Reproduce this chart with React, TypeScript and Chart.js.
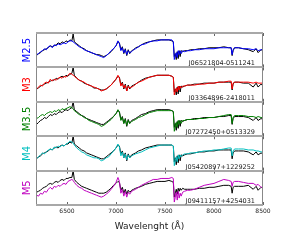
import React, { useEffect, useRef } from 'react';
import { Chart, registerables } from 'chart.js';

Chart.register(...registerables);

// Wavelength grid (Å) shared by all spectra
const wavelengths = [
  6190, 6210, 6230, 6250, 6270, 6290, 6310, 6330, 6350, 6370,
  6390, 6410, 6430, 6450, 6470, 6490, 6510, 6530, 6550, 6563,
  6575, 6600, 6625, 6650, 6675, 6700, 6725, 6750, 6775, 6800,
  6825, 6850, 6875, 6900, 6925, 6950, 6975, 7000, 7020, 7035,
  7050, 7065, 7080, 7095, 7110, 7125, 7140, 7160, 7180, 7200,
  7230, 7260, 7300, 7340, 7380, 7420, 7460, 7500, 7540, 7570,
  7585, 7595, 7605, 7615, 7625, 7635, 7645, 7655, 7665, 7680,
  7700, 7730, 7760, 7800, 7850, 7900, 7950, 8000, 8050, 8100,
  8150, 8175, 8185, 8195, 8210, 8250, 8300, 8350, 8400, 8430,
  8450, 8480, 8500,
];

const xTicks = [6500, 7000, 7500, 8000, 8500];
const xMin = 6184;
const xMax = 8500;

const spectralTypes = ['M2.5', 'M3', 'M3.5', 'M4', 'M5'];
const typeColors = ['#0000ff', '#ff0000', '#008000', '#00bfbf', '#bf00bf'];
const starIds = [
  'J06521804-0511241',
  'J03364896-2418011',
  'J07272450+0513329',
  'J05420897+1229252',
  'J09411157+4254031',
];

// Template spectra (coloured) — relative flux
const templM25 = [
  13, 14, 16, 17, 19, 18, 21, 22, 20, 23,
  22, 24, 23, 24, 25, 24, 26, 27, 27, 26,
  25, 23, 21, 20, 18, 17, 16, 15, 14, 13,
  12, 11, 10, 12, 14, 17, 19, 22, 27, 24,
  17, 20, 15, 18, 13, 17, 15, 16, 18, 19,
  21, 23, 24, 26, 27, 27, 28, 28, 28, 28,
  26, 8, 12, 15, 10, 17, 13, 17, 14, 17,
  16, 17, 17, 18, 18, 19, 19, 19, 20, 20,
  20, 20, 13, 18, 20, 20, 19, 19, 18, 19,
  17, 18, 18,
];
const templM3 = [
  13, 15, 17, 16, 19, 20, 19, 23, 21, 23,
  22, 24, 25, 24, 26, 25, 27, 29, 28, 27,
  26, 24, 22, 21, 20, 18, 17, 16, 15, 14,
  13, 11, 12, 13, 15, 17, 20, 23, 27, 24,
  16, 19, 14, 17, 11, 16, 14, 15, 16, 18,
  20, 21, 23, 25, 26, 27, 27, 27, 27, 26,
  25, 7, 11, 14, 10, 16, 12, 16, 14, 16,
  16, 17, 17, 17, 18, 18, 19, 19, 20, 20,
  21, 21, 13, 19, 20, 20, 20, 20, 19, 20,
  19, 19, 19,
];
const templM35 = [
  18, 19, 21, 22, 21, 23, 24, 25, 24, 26,
  25, 27, 26, 28, 27, 28, 29, 30, 29, 28,
  26, 24, 22, 21, 19, 18, 16, 15, 14, 13,
  12, 10, 11, 13, 15, 17, 20, 23, 27, 24,
  16, 19, 13, 17, 11, 16, 13, 15, 16, 17,
  19, 20, 22, 24, 25, 26, 26, 26, 26, 26,
  25, 5, 10, 14, 9, 16, 12, 16, 13, 16,
  16, 17, 17, 17, 18, 18, 19, 19, 20, 21,
  22, 22, 13, 19, 21, 21, 21, 20, 20, 19,
  20, 19, 19,
];
const templM4 = [
  12, 14, 16, 18, 17, 19, 21, 22, 21, 24,
  23, 25, 24, 26, 25, 27, 28, 30, 29, 28,
  26, 23, 21, 19, 18, 16, 15, 14, 13, 13,
  12, 10, 11, 13, 14, 17, 20, 23, 27, 24,
  15, 19, 13, 17, 11, 16, 13, 15, 16, 17,
  18, 19, 21, 23, 24, 25, 26, 26, 26, 26,
  25, 5, 10, 14, 9, 16, 12, 16, 14, 16,
  17, 17, 18, 18, 19, 20, 20, 21, 21, 22,
  23, 23, 15, 20, 22, 22, 22, 21, 21, 20,
  20, 19, 19,
];
const templM5 = [
  10, 9, 12, 11, 14, 13, 16, 18, 16, 19,
  18, 20, 19, 21, 22, 21, 24, 25, 26, 25,
  23, 20, 18, 17, 15, 14, 13, 12, 11, 10,
  9, 8, 9, 11, 13, 16, 19, 23, 28, 24,
  12, 16, 9, 14, 8, 13, 11, 14, 15, 16,
  18, 20, 22, 24, 26, 26, 27, 27, 27, 28,
  27, 3, 8, 13, 5, 14, 7, 12, 9, 13,
  14, 15, 15, 16, 18, 20, 21, 22, 24, 26,
  25, 24, 19, 23, 24, 24, 23, 22, 22, 20,
  21, 18, 18,
];

// Observed spectra (black) — relative flux
const starJ0652 = [
  12, 14, 15, 17, 18, 19, 20, 22, 21, 22,
  23, 25, 24, 26, 25, 27, 26, 28, 27, 34,
  26, 24, 22, 20, 19, 17, 16, 15, 14, 13,
  13, 12, 11, 12, 14, 16, 19, 22, 26, 25,
  18, 21, 14, 19, 12, 18, 14, 17, 18, 20,
  21, 23, 25, 26, 27, 28, 28, 28, 28, 27,
  26, 11, 14, 8, 16, 9, 17, 11, 17, 16,
  17, 17, 18, 18, 19, 19, 20, 20, 20, 21,
  20, 20, 12, 17, 20, 20, 19, 18, 16, 19,
  15, 18, 17,
];
const starJ0336 = [
  13, 14, 16, 17, 18, 19, 20, 21, 22, 22,
  24, 23, 25, 26, 25, 27, 26, 28, 29, 35,
  27, 24, 22, 21, 19, 18, 17, 16, 14, 14,
  13, 12, 12, 13, 15, 17, 20, 23, 26, 25,
  17, 20, 13, 18, 11, 17, 13, 16, 17, 18,
  20, 22, 24, 25, 26, 27, 27, 27, 27, 26,
  25, 10, 13, 7, 15, 8, 16, 10, 16, 15,
  16, 17, 17, 18, 18, 19, 19, 19, 20, 20,
  20, 20, 12, 18, 20, 20, 19, 19, 15, 19,
  15, 18, 16,
];
const starJ0727 = [
  12, 14, 16, 17, 19, 18, 20, 22, 21, 23,
  22, 24, 25, 24, 26, 27, 26, 28, 29, 35,
  27, 25, 23, 21, 20, 18, 17, 16, 15, 14,
  13, 12, 12, 14, 16, 18, 20, 23, 26, 25,
  17, 20, 13, 18, 10, 17, 13, 16, 17, 18,
  20, 22, 23, 25, 26, 27, 27, 27, 27, 26,
  25, 9, 13, 6, 15, 8, 16, 10, 16, 15,
  16, 17, 17, 18, 18, 19, 19, 19, 20, 20,
  21, 21, 12, 18, 20, 20, 20, 19, 16, 19,
  16, 18, 17,
];
const starJ0542 = [
  12, 14, 15, 17, 18, 19, 20, 22, 21, 23,
  24, 23, 25, 26, 25, 27, 27, 29, 28, 35,
  27, 25, 23, 21, 20, 18, 17, 16, 15, 14,
  13, 12, 12, 14, 16, 18, 20, 23, 26, 25,
  17, 20, 13, 18, 10, 17, 13, 16, 17, 18,
  20, 21, 23, 24, 25, 26, 26, 26, 26, 26,
  25, 9, 13, 6, 15, 8, 16, 10, 16, 15,
  16, 17, 17, 18, 19, 19, 20, 20, 21, 21,
  21, 21, 12, 18, 20, 20, 20, 19, 16, 19,
  16, 18, 17,
];
const starJ0941 = [
  13, 14, 15, 17, 18, 19, 21, 22, 21, 23,
  24, 23, 25, 26, 25, 27, 27, 28, 28, 35,
  26, 23, 21, 19, 18, 17, 16, 15, 14, 13,
  12, 12, 12, 13, 15, 17, 20, 22, 24, 23,
  15, 18, 12, 16, 11, 15, 13, 15, 16, 17,
  18, 19, 21, 22, 23, 24, 24, 24, 25, 24,
  23, 8, 12, 16, 11, 17, 14, 17, 15, 17,
  16, 16, 16, 16, 17, 17, 18, 18, 19, 20,
  20, 19, 12, 18, 19, 19, 19, 20, 16, 19,
  15, 18, 17,
];

const templates = [templM25, templM3, templM35, templM4, templM5];
const observed = [starJ0652, starJ0336, starJ0727, starJ0542, starJ0941];

const FONT = '"DejaVu Sans", Verdana, sans-serif';

export default function App() {
  const canvasRef = useRef<HTMLCanvasElement | null>(null);

  useEffect(() => {
    const canvas = canvasRef.current;
    if (!canvas) return;

    const panelIds = spectralTypes.map((_, i) => 'y' + i);

    const scales: any = {
      x: {
        type: 'linear',
        position: 'bottom',
        min: xMin,
        max: xMax,
        afterBuildTicks: (scale: any) => {
          scale.ticks = xTicks.map((v) => ({ value: v }));
        },
        grid: { display: false, drawTicks: false },
        border: { display: false },
        ticks: {
          font: { family: FONT, size: 6 },
          color: '#222',
          padding: 3,
          maxRotation: 0,
          callback: (v: any) => String(v),
        },
        title: {
          display: true,
          text: 'Wavelenght (Å)',
          font: { family: FONT, size: 9 },
          color: '#222',
          padding: { top: 3, bottom: 0 },
        },
      },
    };
    // defined in reverse so that the first panel ends up on top of the stack
    for (let i = spectralTypes.length - 1; i >= 0; i--) {
      scales[panelIds[i]] = {
        type: 'linear',
        position: 'left',
        stack: 'panels',
        stackWeight: 1,
        min: 0,
        max: 35,
        grid: { display: false, drawTicks: false },
        border: { display: false },
        ticks: { display: false },
        title: {
          display: true,
          text: spectralTypes[i],
          color: typeColors[i],
          font: { family: FONT, size: 10 },
          padding: { top: 1, bottom: 3 },
        },
      };
    }

    const datasets: any[] = [];
    // coloured templates first in array -> drawn last (on top)
    spectralTypes.forEach((t, i) => {
      datasets.push({
        label: t,
        data: wavelengths.map((w, k) => ({ x: w, y: templates[i][k] })),
        yAxisID: panelIds[i],
        borderColor: typeColors[i],
        borderWidth: 1,
        pointRadius: 0,
        tension: 0,
        fill: false,
      });
    });
    spectralTypes.forEach((t, i) => {
      datasets.push({
        label: starIds[i],
        data: wavelengths.map((w, k) => ({ x: w, y: observed[i][k] })),
        yAxisID: panelIds[i],
        borderColor: '#000000',
        borderWidth: 1,
        pointRadius: 0,
        tension: 0,
        fill: false,
      });
    });

    const framePlugin = {
      id: 'panelFrames',
      afterDatasetsDraw(chart: any) {
        const { ctx, chartArea } = chart;
        const xs = chart.scales.x;
        ctx.save();
        panelIds.forEach((id, i) => {
          const s = chart.scales[id];
          // inward tick marks
          ctx.strokeStyle = '#666';
          ctx.lineWidth = 1;
          xTicks.forEach((v) => {
            const px = Math.round(xs.getPixelForValue(v)) + 0.5;
            ctx.beginPath();
            ctx.moveTo(px, s.top);
            ctx.lineTo(px, s.top + 3);
            ctx.moveTo(px, s.bottom);
            ctx.lineTo(px, s.bottom - 3);
            ctx.stroke();
          });
          // vertical spines
          ctx.strokeStyle = '#888';
          ctx.lineWidth = 1;
          ctx.beginPath();
          ctx.moveTo(Math.round(chartArea.left) + 0.5, s.top);
          ctx.lineTo(Math.round(chartArea.left) + 0.5, s.bottom);
          ctx.moveTo(Math.round(chartArea.right) - 0.5, s.top);
          ctx.lineTo(Math.round(chartArea.right) - 0.5, s.bottom);
          ctx.stroke();
          // horizontal spines
          ctx.strokeStyle = '#a8a8a8';
          ctx.lineWidth = 2;
          ctx.beginPath();
          ctx.moveTo(chartArea.left, Math.round(s.top));
          ctx.lineTo(chartArea.right, Math.round(s.top));
          ctx.moveTo(chartArea.left, Math.round(s.bottom));
          ctx.lineTo(chartArea.right, Math.round(s.bottom));
          ctx.stroke();
          // star id label
          ctx.fillStyle = '#222';
          ctx.font = '6.5px ' + FONT;
          ctx.textAlign = 'right';
          ctx.textBaseline = 'alphabetic';
          ctx.fillText(starIds[i], chartArea.right - 8, s.bottom - 2);
        });
        ctx.restore();
      },
    };

    const chart = new Chart(canvas, {
      type: 'line',
      data: { datasets },
      options: {
        animation: false,
        responsive: false,
        devicePixelRatio: 1,
        parsing: false as any,
        normalized: true,
        layout: { padding: { left: 20, right: 29, top: 33, bottom: 11 } },
        plugins: {
          legend: { display: false },
          tooltip: { enabled: false },
          title: { display: false },
        },
        scales,
      },
      plugins: [framePlugin],
    });

    return () => chart.destroy();
  }, []);

  return (
    <div style={{ position: 'absolute', left: 0, top: 0, width: 292, height: 243, background: '#fff' }}>
      <canvas ref={canvasRef} width={292} height={243} style={{ width: 292, height: 243, display: 'block' }} />
    </div>
  );
}
